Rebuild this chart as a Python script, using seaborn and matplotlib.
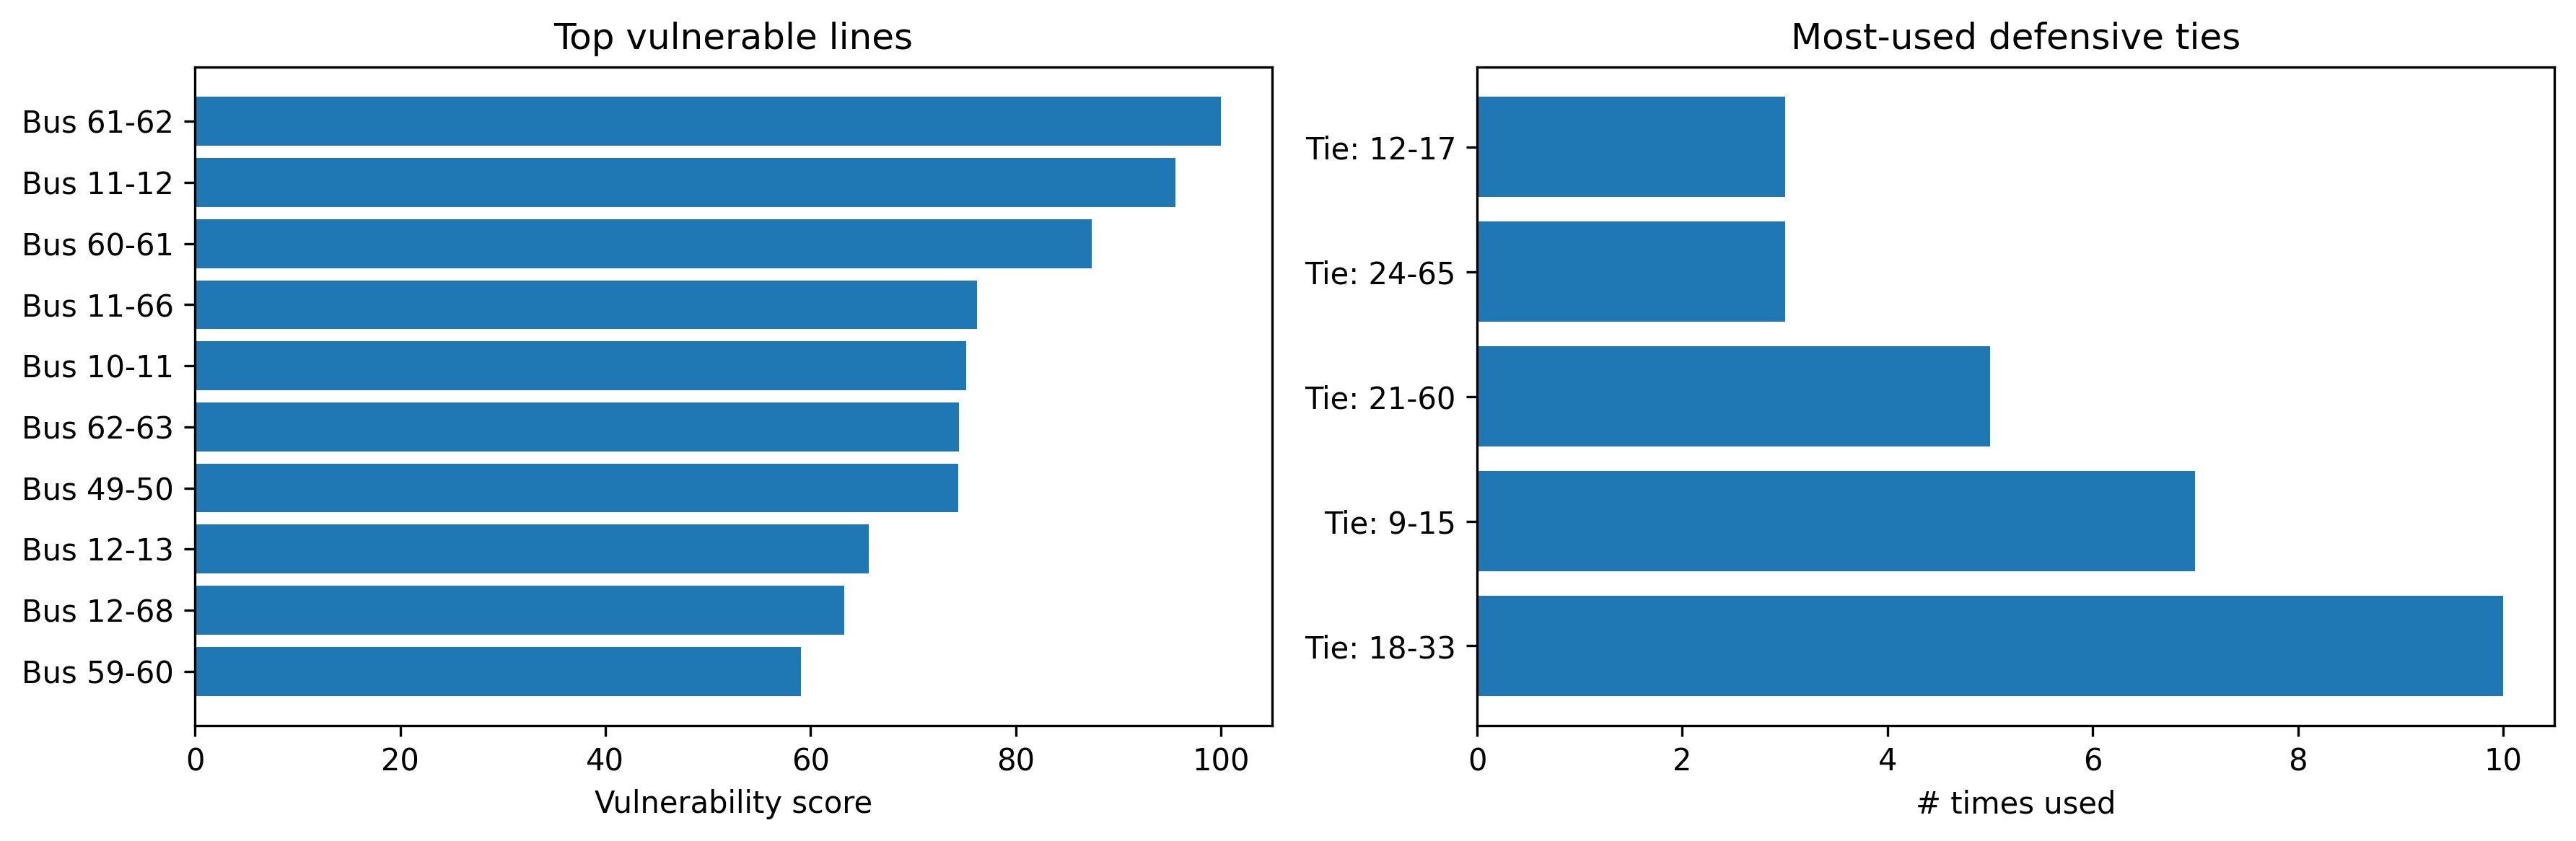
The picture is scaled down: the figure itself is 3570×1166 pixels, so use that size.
import matplotlib
matplotlib.use("Agg")
import matplotlib.pyplot as plt
import seaborn as sns
import pandas as pd

line_labels = ["Bus 61-62", "Bus 11-12", "Bus 60-61", "Bus 11-66", "Bus 10-11",
               "Bus 62-63", "Bus 49-50", "Bus 12-13", "Bus 12-68", "Bus 59-60"]
line_scores = [100.0, 95.6, 87.4, 76.2, 75.2, 74.5, 74.4, 65.7, 63.3, 59.1]

tie_labels = ["Tie: 12-17", "Tie: 24-65", "Tie: 21-60", "Tie: 9-15", "Tie: 18-33"]
tie_counts = [3, 3, 5, 7, 10]

df_lines = pd.DataFrame({"line": line_labels, "score": line_scores})
df_ties = pd.DataFrame({"tie": tie_labels, "count": tie_counts})

color = "#1f77b4"
fig, axes = plt.subplots(1, 2, figsize=(11.9, 3.887), dpi=300)

ax = axes[0]
sns.barplot(data=df_lines, x="score", y="line", orient="h", color=color,
            saturation=1, width=0.8, ax=ax)
n = len(line_labels)
span = (n - 1) + 0.8
ax.set_ylim(n - 1 + 0.4 + 0.05 * span, -0.4 - 0.05 * span)
ax.set_title("Top vulnerable lines")
ax.set_xlabel("Vulnerability score")
ax.set_ylabel("")

ax = axes[1]
sns.barplot(data=df_ties, x="count", y="tie", orient="h", color=color,
            saturation=1, width=0.8, ax=ax)
n = len(tie_labels)
span = (n - 1) + 0.8
ax.set_ylim(n - 1 + 0.4 + 0.05 * span, -0.4 - 0.05 * span)
ax.set_title("Most-used defensive ties")
ax.set_xlabel("# times used")
ax.set_ylabel("")

for a in axes:
    for s in a.spines.values():
        s.set_visible(True)

fig.tight_layout(pad=0.72, w_pad=1.08)
fig.savefig("out.png", dpi=300)
